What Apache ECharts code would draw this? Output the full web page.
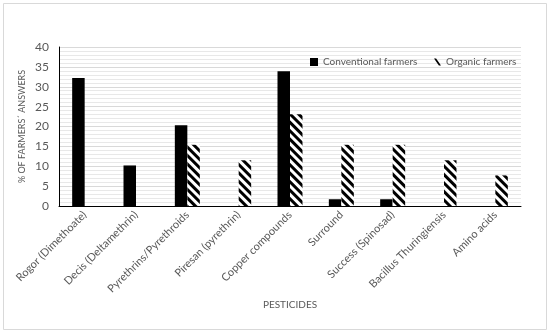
<!DOCTYPE html>
<html><head><meta charset="utf-8">
<script src="https://cdn.jsdelivr.net/npm/echarts@6/dist/echarts.min.js"></script>
<style>html,body{margin:0;padding:0;background:#fff}#c{width:550px;height:334px}</style>
</head><body><div id="c"></div>
<script>
const categories = ['Rogor (Dimethoate)','Decis (Deltamethrin)','Pyrethrins/Pyrethroids','Piresan (pyrethrin)','Copper compounds','Surround','Success (Spinosad)','Bacillus Thuringiensis','Amino acids'];
const conventional = [32.2, 10.2, 20.3, 0, 33.9, 1.7, 1.7, 0, 0];
const organic = [0, 0, 15.4, 11.5, 23.1, 15.4, 15.4, 11.5, 7.7];
const yTicks = [0,5,10,15,20,25,30,35,40];

const FONT = 'Lato';
const grey = '#595959';
const chart = echarts.init(document.getElementById('c'));
chart.setOption({
  animation: false,
  textStyle: {fontFamily: FONT},
  graphic: [{type:'rect', shape:{x:3.5,y:3.5,width:543,height:326}, style:{fill:'none', stroke:'#d9d9d9', lineWidth:1}}],
  legend: [
    {left: 305, top: 52, itemWidth: 8, itemHeight: 8, itemGap: 0,
     textStyle: {color: grey, fontSize: 10, fontFamily: FONT},
     data: [{name:'Conventional farmers', icon:'rect', itemStyle:{color:'#000'}}]},
    {left: 429, top: 52, itemWidth: 7, itemHeight: 7, itemGap: 0,
     textStyle: {color: grey, fontSize: 10, fontFamily: FONT},
     data: [{name:'Organic farmers', icon:'path://M0,0L3,0L10,10L7,10Z', itemStyle:{color:'#000', decal:'none'}}]}
  ],
  grid: {left: 59, right: 29, top: 47, bottom: 128},
  xAxis: {
    type: 'category', data: categories,
    axisLine: {lineStyle:{color:'#000', width:1}},
    axisTick: {show:false},
    axisLabel: {rotate: 45, color: grey, fontSize: 11, margin: 7, interval: 0},
    name: 'PESTICIDES', nameLocation: 'middle', nameGap: 94, nameMoveOverlap: false,
    nameTextStyle: {color: grey, fontSize: 10}
  },
  yAxis: {
    type: 'value', min: 0, max: 40, interval: 5,
    axisLine: {show:true, lineStyle:{color:'#000', width:1}},
    axisTick: {show:false},
    axisLabel: {color: grey, fontSize: 12, margin: 10,
      formatter: v => yTicks.includes(v) ? String(v) : ''},
    splitLine: {lineStyle:{color:'#d9d9d9'}},
    minorTick: {show:false, splitNumber:5},
    minorSplitLine: {show:true, lineStyle:{color:'#e8e8e8'}},
    name: '% OF FARMERS´ ANSWERS', nameLocation: 'middle', nameGap: 32, nameMoveOverlap: false,
    nameTextStyle: {color: grey, fontSize: 9}
  },
  series: [
    {name:'Conventional farmers', type:'bar', data: conventional, barWidth: 12.5, barGap: '0%',
     itemStyle:{color:'#000'}},
    {name:'Organic farmers', type:'bar', data: organic, barWidth: 12.5,
     itemStyle:{color:'#fff', decal:{symbol:'rect', color:'#000', dashArrayX:[1,0], dashArrayY:[2.5,2.5], rotation: Math.PI/4, symbolSize:1}}}
  ]
});
</script></body></html>
